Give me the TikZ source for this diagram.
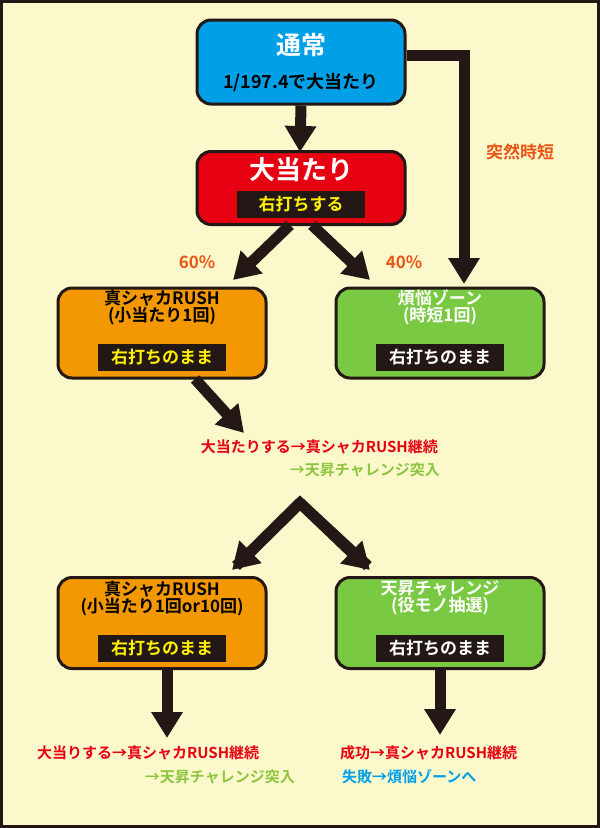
\documentclass[tikz,border=0pt]{standalone}
\usepackage{fontspec}
\setmainfont{Noto Sans CJK JP}[BoldFont={* Bold}]
\usetikzlibrary{arrows.meta}
\definecolor{bg}{HTML}{FBF8CC}
\definecolor{cblue}{HTML}{00A0E6}
\definecolor{cred}{HTML}{E60012}
\definecolor{corange}{HTML}{F39800}
\definecolor{cgreen}{HTML}{7AC943}
\definecolor{cdark}{HTML}{231815}
\definecolor{clab}{HTML}{EA5514}
\definecolor{tred}{HTML}{E60012}
\definecolor{tgreen}{HTML}{8CC63F}
\definecolor{tblue}{HTML}{00A0E9}
\definecolor{cyel}{HTML}{FFF100}
\tikzset{x=1pt,y=-1pt,
 box/.style={draw=cdark,line width=3pt,rounded corners=14pt,minimum width=208pt,font=\bfseries},
 tag/.style={fill=cdark,inner sep=2pt,font=\bfseries\fontsize{17}{17}\selectfont,minimum height=27pt},
 big/.style={line width=11pt,draw=cdark,-{Triangle[width=30pt,length=26pt]}},
 lbl/.style={text=clab,font=\bfseries\fontsize{17}{17}\selectfont},
 txt/.style={font=\bfseries\fontsize{15}{15}\selectfont,inner sep=0pt}}
\begin{document}
\begin{tikzpicture}
\path[fill=bg,draw=cdark,line width=3pt] (1.5,1.5) rectangle (598.5,826.5);
\useasboundingbox (0,0) rectangle (600,828);
% boxes
\node[box,fill=cblue,minimum height=84pt] (n1) at (301,62) {};
\node[text=white,font=\bfseries\fontsize{25}{25}\selectfont] at (301,45) {通常};
\node[text=black,font=\bfseries\fontsize{18}{18}\selectfont] at (301,82) {1/197.4で大当たり};
\node[box,fill=cred,minimum height=73pt] (n2) at (301,188) {};
\node[text=white,font=\bfseries\fontsize{26}{26}\selectfont] at (301,170) {大当たり};
\node[tag,text=cyel,minimum width=128pt] at (301,204) {右打ちする};
\node[box,fill=corange,minimum height=90pt] (n3) at (162,333) {};
\node[text=black,font=\bfseries\fontsize{17}{17}\selectfont,align=center] at (162,307) {真シャカRUSH\\(小当たり1回)};
\node[tag,text=cyel,minimum width=128pt] at (162,357) {右打ちのまま};
\node[box,fill=cgreen,minimum height=90pt] (n4) at (440,333) {};
\node[text=white,font=\bfseries\fontsize{17}{17}\selectfont,align=center] at (440,307) {煩悩ゾーン\\(時短1回)};
\node[tag,text=white,minimum width=128pt] at (440,357) {右打ちのまま};
\node[box,fill=corange,minimum height=91pt] (n5) at (162,623) {};
\node[text=black,font=\bfseries\fontsize{17}{17}\selectfont,align=center] at (162,598) {真シャカRUSH\\(小当たり1回or10回)};
\node[tag,text=cyel,minimum width=128pt] at (162,648) {右打ちのまま};
\node[box,fill=cgreen,minimum height=91pt] (n6) at (440,623) {};
\node[text=white,font=\bfseries\fontsize{17}{17}\selectfont,align=center] at (440,598) {天昇チャレンジ\\(役モノ抽選)};
\node[tag,text=white,minimum width=128pt] at (440,648) {右打ちのまま};
% texts
\node[txt,text=tred,anchor=east] (t1) at (438,447) {大当たりする→真シャカRUSH継続};
\node[txt,text=tgreen,anchor=east] (t2) at (440,470) {→天昇チャレンジ突入};
\node[txt,text=tred,anchor=west] (t3) at (37,753) {大当りする→真シャカRUSH継続};
\node[txt,text=tgreen,anchor=east] (t4) at (295,777) {→天昇チャレンジ突入};
\node[txt,text=tred,anchor=west] (t5) at (340,753) {成功→真シャカRUSH継続};
\node[txt,text=tblue,anchor=west] (t6) at (342,777) {失敗→煩悩ゾーンへ};
\node[lbl] (l1) at (520,152) {突然時短};
\node[lbl] (l2) at (197,262) {60\%};
\node[lbl] (l3) at (404,262) {40\%};
% arrows
\coordinate (c1) at (300,152);
\coordinate (c2) at (464,55);
\coordinate (c3) at (464,284);
\draw[big] (n1.south) -- (c1);
\draw[big] (n1.east|-c2) -- (c2) -- (c3);
\draw[big] (290,225) -- (233,280);
\draw[big] (312,225) -- (370,280);
\draw[big] (195,379) -- (244,433);
\coordinate (ap) at (300,503);
\draw[line width=11pt,draw=cdark,line join=miter] (236,566) -- (ap) -- (368,566);
\draw[big] (ap) -- (232,570);
\draw[big] (ap) -- (370,570);
\draw[big] (n5.south-|167,0) -- (167,738);
\draw[big] (n6.south-|440,0) -- (440,735);
\end{tikzpicture}
\end{document}
